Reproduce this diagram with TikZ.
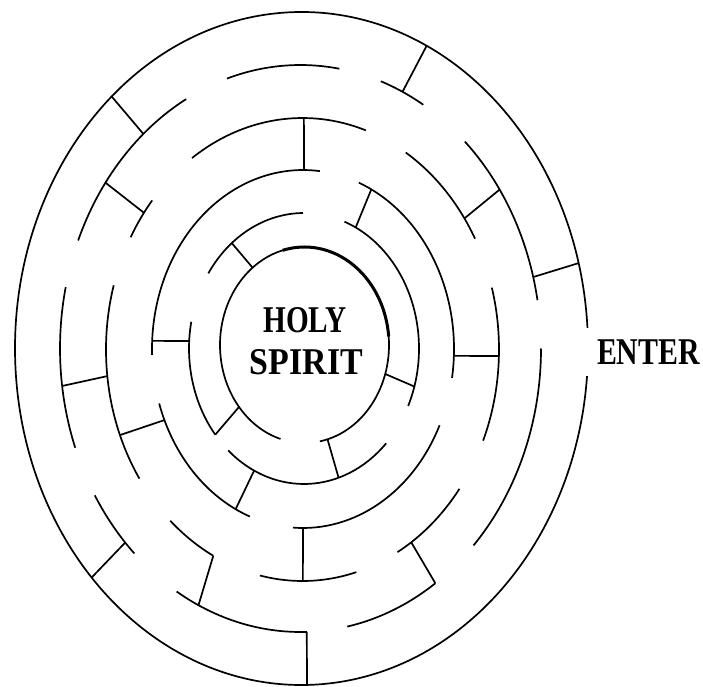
\documentclass[tikz,border=0pt]{standalone}
\usepackage{fontspec}
\setmainfont{Liberation Serif}
\usepackage{graphicx}
\begin{document}
\begin{tikzpicture}[x=1pt,y=1pt,
  line width=1.7pt, line join=round,
  e1/.style={shift={(301.5,337.5)},xscale=286.5,yscale=336.5},
  e2/.style={shift={(300.5,337.5)},xscale=240.5,yscale=283.5},
  e3/.style={shift={(302.5,336.5)},xscale=196.5,yscale=231.5},
  e4/.style={shift={(303,337)},xscale=151,yscale=179},
  e5/.style={shift={(304,337.5)},xscale=115,yscale=135.5},
  e6/.style={shift={(304.5,341)},xscale=84.5,yscale=98},
  bold6/.style={line width=3pt},
  lbl/.style={inner sep=0pt, font=\fontsize{37.8}{40}\selectfont\bfseries}]
\useasboundingbox (0,0) rectangle (703,686);
% ring 1 (outer)
\draw[e1] (3.5:1pt) arc[start angle=3.5,end angle=355.3,radius=1pt];
% ring 2
\draw[e2] (80.7:1pt) arc[start angle=80.7,end angle=107.8,radius=1pt];
\draw[e2] (59.3:1pt) arc[start angle=59.3,end angle=70.5,radius=1pt];
\draw[e2] (9.8:1pt) arc[start angle=9.8,end angle=46.9,radius=1pt];
\draw[e2] (-44:1pt) arc[start angle=-44,end angle=0,radius=1pt];
\draw[e2] (-78.8:1pt) arc[start angle=-78.8,end angle=-55.9,radius=1pt];
\draw[e2] (-121:1pt) arc[start angle=-121,end angle=-88.5,radius=1pt];
\draw[e2] (211.2:1pt) arc[start angle=211.2,end angle=226.3,radius=1pt];
\draw[e2] (167.5:1pt) arc[start angle=167.5,end angle=200.5,radius=1pt];
\draw[e2] (118.4:1pt) arc[start angle=118.4,end angle=157.6,radius=1pt];
% ring 3
\draw[e3] (71.2:1pt) arc[start angle=71.2,end angle=124.2,radius=1pt];
\draw[e3] (28.6:1pt) arc[start angle=28.6,end angle=58.3,radius=1pt];
\draw[e3] (-23.2:1pt) arc[start angle=-23.2,end angle=15.5,radius=1pt];
\draw[e3] (-61.1:1pt) arc[start angle=-61.1,end angle=-37,radius=1pt];
\draw[e3] (-102.5:1pt) arc[start angle=-102.5,end angle=-74.1,radius=1pt];
\draw[e3] (227.7:1pt) arc[start angle=227.7,end angle=243,radius=1pt];
\draw[e3] (163.9:1pt) arc[start angle=163.9,end angle=213.9,radius=1pt];
\draw[e3] (139.9:1pt) arc[start angle=139.9,end angle=151,radius=1pt];
% ring 4
\draw[e4] (83.6:1pt) arc[start angle=83.6,end angle=181.9,radius=1pt];
\draw[e4] (-9.3:1pt) arc[start angle=-9.3,end angle=68.3,radius=1pt];
\draw[e4] (-93.8:1pt) arc[start angle=-93.8,end angle=-25.2,radius=1pt];
\draw[e4] (197.7:1pt) arc[start angle=197.7,end angle=249.4,radius=1pt];
% ring 5
\draw[e5] (90.5:1pt) arc[start angle=90.5,end angle=146.3,radius=1pt];
\draw[e5] (168.6:1pt) arc[start angle=168.6,end angle=219.5,radius=1pt];
\draw[e5] (-131.2:1pt) arc[start angle=-131.2,end angle=-44.4,radius=1pt];
\draw[e5] (-25.1:1pt) arc[start angle=-25.1,end angle=69.4,radius=1pt];
% ring 6 (inner)
\draw[e6] (-79.5:1pt) arc[start angle=-79.5,end angle=253.5,radius=1pt];
\draw[e6,bold6] (5:1pt) arc[start angle=5,end angle=105,radius=1pt];
% walls
\draw ([e1]131.5:1pt) -- ([e2]130.8:1pt);
\draw ([e2]144.2:1pt) -- ([e3]143.8:1pt);
\draw ([e3]89.6:1pt) -- ([e4]89.6:1pt);
\draw ([e5]128.9:1pt) -- ([e6]127.9:1pt);
\draw ([e4]177.4:1pt) -- ([e5]176.8:1pt);
\draw ([e2]64.9:1pt) -- ([e1]64.1:1pt);
\draw ([e4]63.1:1pt) -- ([e5]63.3:1pt);
\draw ([e2]34.1:1pt) -- ([e3]34.5:1pt);
\draw ([e1]14.7:1pt) -- ([e2]14.6:1pt);
\draw ([e3]-1.6:1pt) -- ([e4]-2.2:1pt);
\draw ([e6]-17.2:1pt) -- ([e5]-16.3:1pt);
\draw ([e3]-56.4:1pt) -- ([e2]-55.9:1pt);
\draw ([e2]-88.5:1pt) -- ([e1]-88.9:1pt);
\draw ([e4]-90:1pt) -- ([e3]-89.9:1pt);
\draw ([e5]-72.5:1pt) -- ([e6]-74.2:1pt);
\draw ([e4]243.5:1pt) -- ([e5]244.3:1pt);
\draw ([e5]219.5:1pt) -- ([e6]219.2:1pt);
\draw ([e3]201.7:1pt) -- ([e4]203.4:1pt);
\draw ([e2]187.6:1pt) -- ([e3]186.6:1pt);
\draw ([e1]222.9:1pt) -- ([e2]223.2:1pt);
\draw ([e3]243:1pt) -- ([e2]244.9:1pt);
% labels
\node[lbl] (holy) at (305,365.5) {\scalebox{0.773}[1]{HOLY}};
\node[lbl] (spirit) at (306.5,323.5) {\scalebox{0.897}[1]{SPIRIT}};
\node[lbl] (enter) at (648.5,333.5) {\scalebox{0.79}[1]{ENTER}};
\end{tikzpicture}
\end{document}
